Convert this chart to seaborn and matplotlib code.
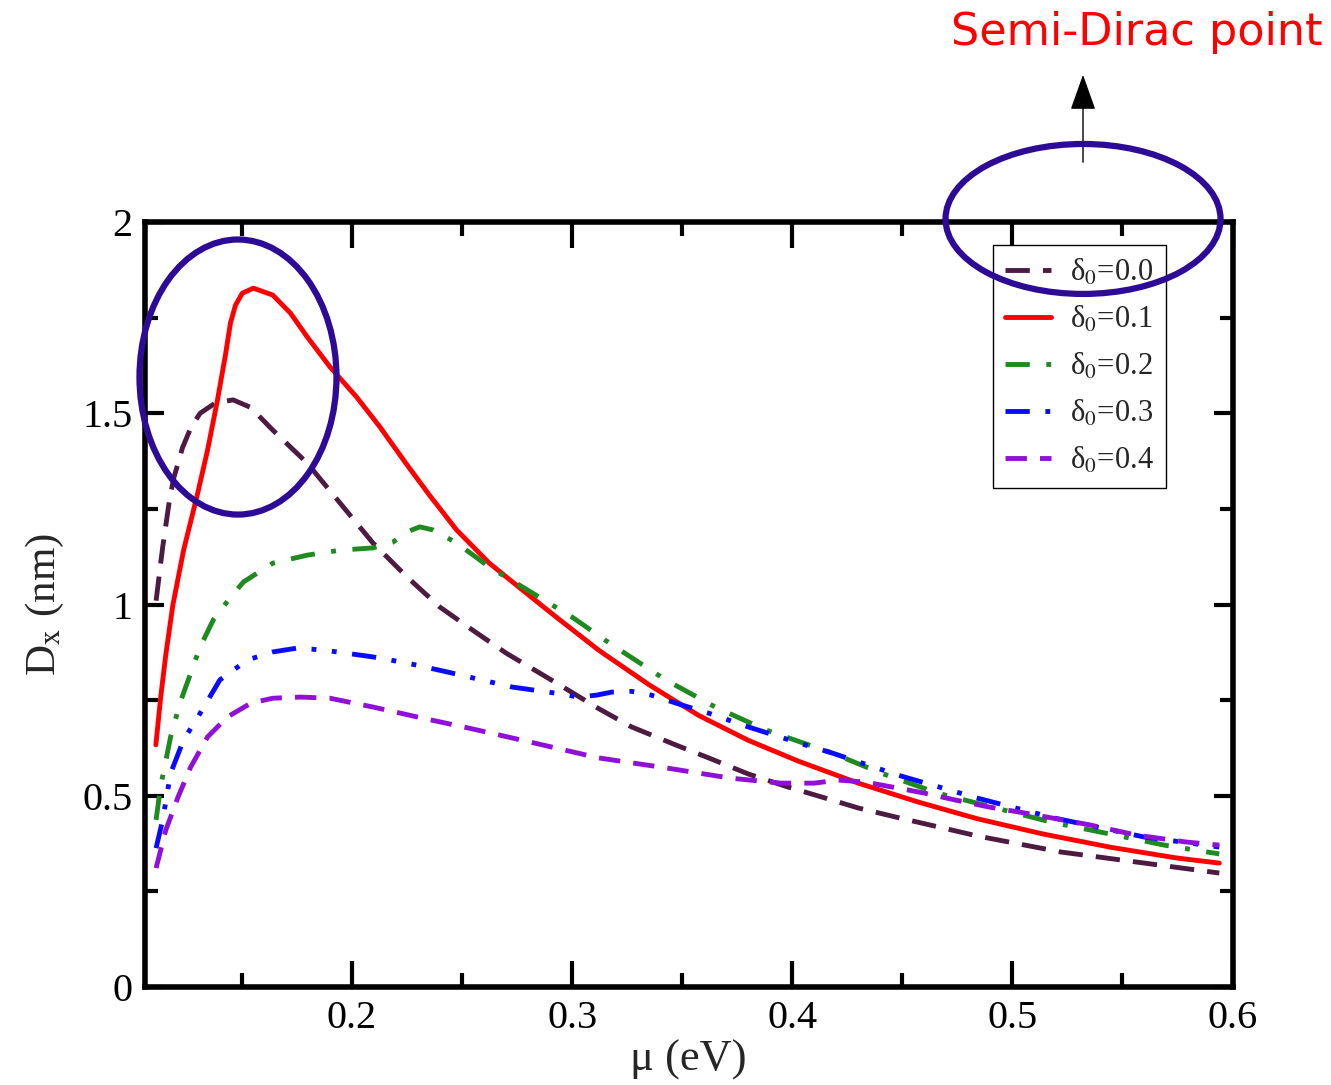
import matplotlib

matplotlib.use("Agg")
import matplotlib.pyplot as plt
import seaborn as sns
from matplotlib.patches import Ellipse
from matplotlib.ticker import MultipleLocator, FuncFormatter

# --- data: mu (eV) vs D_x (nm) ---
mu_00 = [0.111, 0.114, 0.117, 0.119, 0.123, 0.127, 0.131, 0.138, 0.146, 0.154,
         0.164, 0.1796, 0.1946, 0.2095, 0.225, 0.240, 0.2548, 0.270, 0.2928, 0.312,
         0.327, 0.347, 0.362, 0.38, 0.398, 0.415, 0.43, 0.448, 0.484, 0.522,
         0.56, 0.594]
dx_00 = [1.01, 1.15, 1.27, 1.33, 1.41, 1.465, 1.50, 1.527, 1.535, 1.515,
         1.456, 1.37, 1.265, 1.161, 1.072, 0.993, 0.933, 0.873, 0.795, 0.728,
         0.68, 0.633, 0.599, 0.557, 0.523, 0.494, 0.468, 0.443, 0.395, 0.353,
         0.324, 0.298]

mu_01 = [0.1109, 0.1131, 0.1154, 0.1186, 0.1235, 0.1299, 0.1344, 0.1389, 0.1425, 0.1448,
         0.1471, 0.1502, 0.1552, 0.164, 0.172, 0.1796, 0.190, 0.202, 0.2127, 0.225,
         0.2353, 0.2475, 0.2624, 0.2774, 0.2928, 0.3122, 0.335, 0.3575, 0.38, 0.403,
         0.43, 0.457, 0.484, 0.514, 0.545, 0.575, 0.594]
dx_01 = [0.633, 0.758, 0.868, 0.998, 1.142, 1.291, 1.404, 1.535, 1.652, 1.736,
         1.783, 1.814, 1.827, 1.809, 1.762, 1.70, 1.621, 1.543, 1.464, 1.365,
         1.285, 1.195, 1.108, 1.038, 0.967, 0.88, 0.79, 0.71, 0.645, 0.59,
         0.533, 0.484, 0.44, 0.40, 0.365, 0.337, 0.324]

mu_02 = [0.111, 0.113, 0.1176, 0.122, 0.131, 0.137, 0.145, 0.1507, 0.164, 0.1796,
         0.1946, 0.2095, 0.2186, 0.225, 0.2308, 0.2367, 0.2475, 0.2624, 0.2774, 0.300,
         0.318, 0.3425, 0.365, 0.388, 0.418, 0.440, 0.466, 0.517, 0.569, 0.594]
dx_02 = [0.437, 0.523, 0.654, 0.745, 0.889, 0.96, 1.02, 1.059, 1.108, 1.129,
         1.142, 1.148, 1.163, 1.19, 1.203, 1.195, 1.161, 1.098, 1.046, 0.967,
         0.895, 0.803, 0.732, 0.672, 0.612, 0.56, 0.507, 0.432, 0.371, 0.348]

mu_03 = [0.111, 0.114, 0.1176, 0.1235, 0.130, 0.140, 0.1525, 0.164, 0.175, 0.187,
         0.2095, 0.225, 0.243, 0.273, 0.2928, 0.303, 0.311, 0.318, 0.327, 0.336,
         0.350, 0.362, 0.380, 0.403, 0.418, 0.448, 0.484, 0.519, 0.56, 0.594]
dx_03 = [0.363, 0.437, 0.559, 0.646, 0.706, 0.803, 0.855, 0.876, 0.886, 0.881,
         0.863, 0.847, 0.824, 0.784, 0.768, 0.758, 0.763, 0.771, 0.773, 0.763,
         0.737, 0.716, 0.68, 0.638, 0.612, 0.554, 0.494, 0.442, 0.392, 0.366]

mu_04 = [0.111, 0.1154, 0.121, 0.1267, 0.1344, 0.1434, 0.154, 0.164, 0.1765, 0.190,
         0.2095, 0.232, 0.253, 0.2805, 0.312, 0.3425, 0.372, 0.395, 0.41, 0.4208,
         0.433, 0.448, 0.46, 0.474, 0.489, 0.5055, 0.535, 0.5565, 0.579, 0.594]
dx_04 = [0.311, 0.41, 0.497, 0.575, 0.654, 0.706, 0.742, 0.755, 0.758, 0.755,
         0.732, 0.703, 0.677, 0.641, 0.599, 0.573, 0.546, 0.533, 0.533, 0.541,
         0.536, 0.520, 0.507, 0.489, 0.471, 0.455, 0.424, 0.397, 0.379, 0.371]

labels = ["δ$_0$=0.0", "δ$_0$=0.1", "δ$_0$=0.2", "δ$_0$=0.3", "δ$_0$=0.4"]
colors = ["#4d1a42", "#ff0000", "#1f8a1f", "#0a0aff", "#9010d8"]
styles = [(0, (5, 2.7)), "-", (0, (5, 3.4, 1, 3.4)), (0, (5, 3.2, 1, 3.2, 1, 3.2)),
          (0, (4.4, 2.7))]
series = [(mu_00, dx_00), (mu_01, dx_01), (mu_02, dx_02), (mu_03, dx_03), (mu_04, dx_04)]

sns.set_style("ticks")
plt.rcParams["font.family"] = ["Liberation Serif", "DejaVu Serif"]
plt.rcParams["mathtext.fontset"] = "stix"

fig = plt.figure(figsize=(13.31, 10.85), dpi=100)
ax = fig.add_axes([0.109, 0.0903, 0.817, 0.7051])

for (mu, dx), lab, c, ls in zip(series, labels, colors, styles):
    sns.lineplot(x=mu, y=dx, ax=ax, color=c, linewidth=3.5, linestyle=ls, label=lab,
                 estimator=None, sort=False)

ax.set_xlim(0.106, 0.6)
ax.set_ylim(0, 2)
ax.xaxis.set_major_locator(MultipleLocator(0.1))
ax.xaxis.set_minor_locator(MultipleLocator(0.05))
ax.yaxis.set_major_locator(MultipleLocator(0.5))
ax.yaxis.set_minor_locator(MultipleLocator(0.25))
ax.xaxis.set_major_formatter(FuncFormatter(lambda v, p: f"{v:g}"))
ax.yaxis.set_major_formatter(FuncFormatter(lambda v, p: f"{v:g}"))

for s in ax.spines.values():
    s.set_linewidth(4)
    s.set_color("black")
ax.tick_params(which="both", direction="in", top=True, right=True, width=3,
               labelsize=29, colors="black")
ax.tick_params(axis="x", which="major", length=19, pad=9)
ax.tick_params(axis="x", which="minor", length=10)
ax.tick_params(axis="y", which="major", length=14, pad=9)
ax.tick_params(axis="y", which="minor", length=9.5)

ax.set_xlabel("μ (eV)", fontsize=32, labelpad=2)
ax.set_ylabel("D$_\\mathrm{x}$ (nm)", fontsize=31, labelpad=12)

handles, labs = ax.get_legend_handles_labels()
leg = ax.legend(handles, labs, loc="upper right", bbox_to_anchor=(0.9384, 0.970),
                borderaxespad=0, fontsize=22, handlelength=1.5, labelspacing=0.55,
                handletextpad=0.6, frameon=True, fancybox=False, framealpha=1,
                borderpad=0.4)
leg.get_frame().set_edgecolor("black")
leg.get_frame().set_linewidth(1)

# annotations: circled regions, arrow and label
ring = "#2e0b96"
fig.add_artist(Ellipse((0.1788, 0.6525), 0.148, 0.2535, transform=fig.transFigure,
                       fill=False, ec=ring, lw=4.5))
fig.add_artist(Ellipse((0.8137, 0.7982), 0.2066, 0.1382, transform=fig.transFigure,
                       fill=False, ec=ring, lw=4.5))
ax.annotate("", xy=(1083, 1013), xytext=(1083, 920), xycoords="figure pixels",
            textcoords="figure pixels",
            arrowprops=dict(arrowstyle="-|>,head_length=0.45,head_width=0.16",
                            color="black", lw=1, mutation_scale=50))
fig.text(0.8543, 0.9705, "Semi-Dirac point", color="red", ha="center", va="center",
         fontsize=32, family="DejaVu Sans")

fig.savefig("out.png", dpi=100)
